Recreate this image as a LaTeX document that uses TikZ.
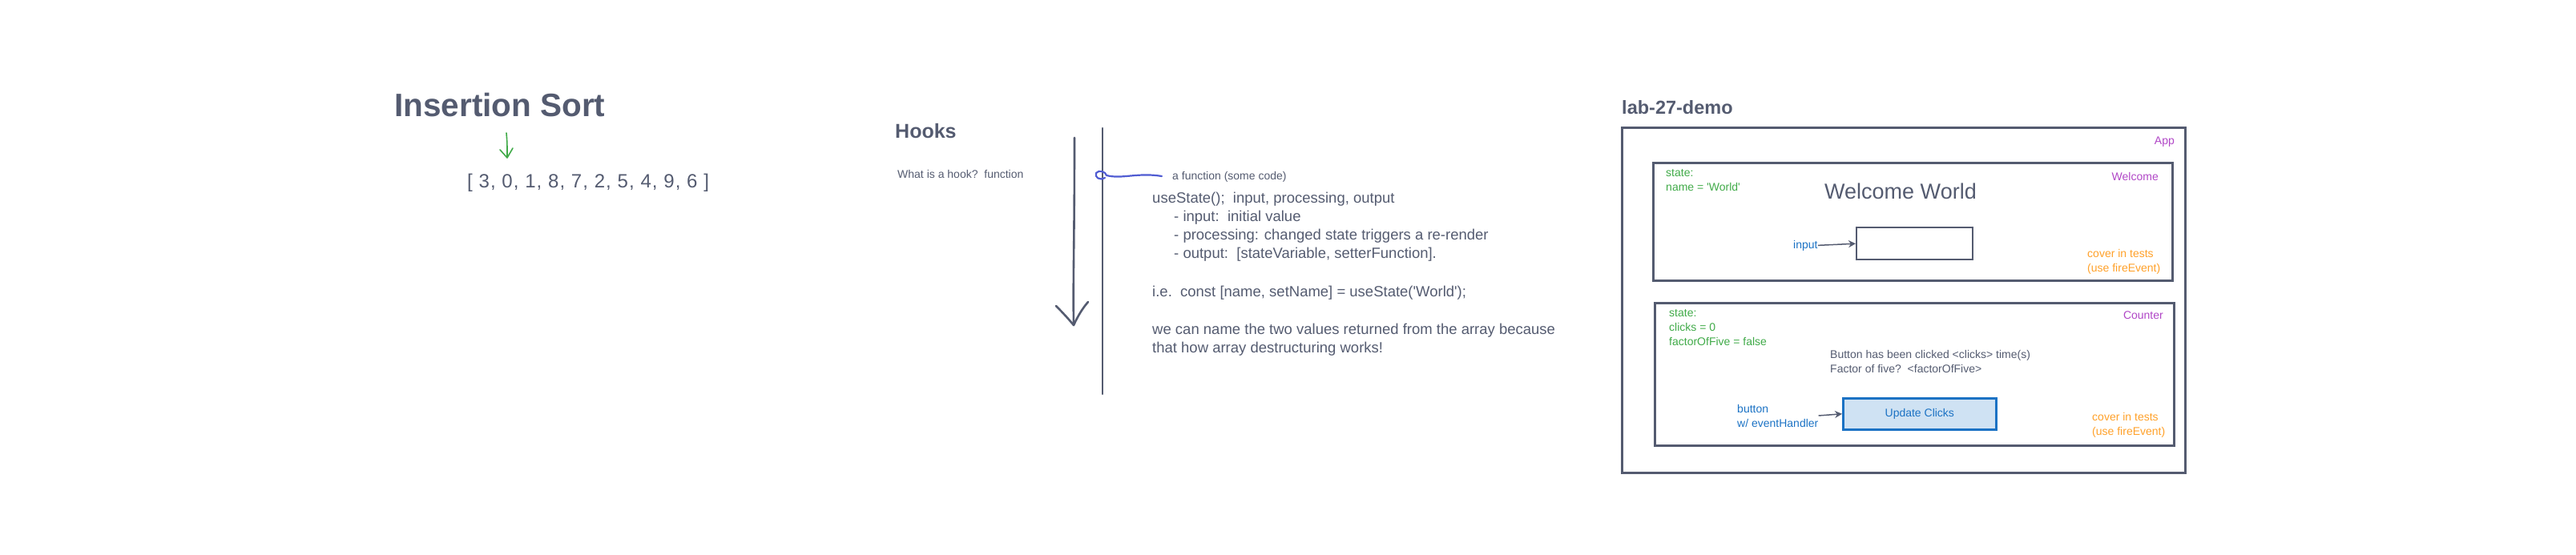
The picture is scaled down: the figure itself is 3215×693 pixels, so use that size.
\documentclass[tikz,border=0pt]{standalone}
\usepackage{fontspec}
\setmainfont{Liberation Sans}
\usetikzlibrary{arrows.meta}

\definecolor{slate}{RGB}{84,91,112}
\definecolor{leafgreen}{RGB}{64,170,72}
\definecolor{penblue}{RGB}{80,92,210}
\definecolor{plum}{RGB}{176,70,198}
\definecolor{linkblue}{RGB}{27,114,196}
\definecolor{amber}{RGB}{255,160,40}
\definecolor{btnfill}{RGB}{207,226,243}

\newcommand{\fsz}[2]{\fontsize{#1}{#2}\selectfont}

\begin{document}
\begin{tikzpicture}[x=1pt, y=-1pt, >={Stealth[length=9pt,width=9pt]},
  lbl/.style={inner sep=0pt, anchor=base west, text=slate, font=\fsz{14}{18}},
  heading/.style={lbl, font=\bfseries\fsz{24}{28}},
  frame/.style={draw=slate, line width=2.6pt, inner sep=0pt, anchor=north west},
  pencil/.style={slate, line width=2.6pt, line cap=round, line join=round}]
  \useasboundingbox (0,0) rectangle (3215,693);

  % insertion sort
  \node[heading, font=\bfseries\fsz{40.5}{48}] (sorttitle) at (492,145) {Insertion Sort};
  \node[lbl, font=\addfontfeature{LetterSpace=4.5}\fsz{24}{28}] (sortarray) at (583,234) {[ 3, 0, 1, 8, 7, 2, 5, 4, 9, 6 ]};
  \draw[leafgreen, line width=1.6pt, line cap=round, line join=round]
    (632,166) .. controls (633,178) .. (633,197) (624,187) -- (633,197) -- (640,185);

  % hooks
  \node[heading, font=\bfseries\fsz{25}{30}] (hookstitle) at (1117,172) {Hooks};
  \node[lbl] (hookq) at (1120,222) {What is a hook?\ \ function};
  \draw[pencil] (1341,172) .. controls (1341,300) and (1339,350) .. (1340,406);
  \draw[pencil] (1318,382) .. controls (1328,392) and (1335,400) .. (1340,406)
    .. controls (1345,395) and (1351,385) .. (1358,377);
  \coordinate (linetop) at (1376,160);
  \coordinate (linebot) at (1376,492);
  \draw[pencil] (linetop) -- (linebot);
  \draw[penblue, line width=2.2pt, line cap=round, line join=round]
    (1379,222) .. controls (1372,226) and (1366,221) .. (1368,216)
    .. controls (1371,212) and (1380,214) .. (1381,219)
    .. controls (1400,224) and (1420,215) .. (1450,220);
  \node[lbl] (hookdef) at (1463,224) {a function (some code)};
  % multi-line nodes sit on the baseline of their last line
  \node[lbl, font=\fsz{18.5}{23}, align=left] (usestate) at (1438,440)
    {useState();\ \ input, processing, output\\
     \hspace*{27pt}- input:\ \ initial value\\
     \hspace*{27pt}- processing: changed state triggers a re-render\\
     \hspace*{27pt}- output:\ \ [stateVariable, setterFunction].\\[25pt]
     i.e.\ \ const [name, setName] = useState(\textquotesingle World\textquotesingle);\\[24pt]
     we can name the two values returned from the array because\\
     that how array destructuring works!};

  % lab-27-demo
  \node[heading, font=\bfseries\fsz{23.5}{28}] (demotitle) at (2024,142) {lab-27-demo};
  \node[frame, minimum width=703pt, minimum height=431pt] (appbox) at (2023,158) {};
  \node[lbl, anchor=base east, text=plum] (applbl) at (2714,180) {App};

  \node[frame, minimum width=648pt, minimum height=147pt] (welcomebox) at (2062,202) {};
  \node[lbl, text=leafgreen, align=left] (welcomestate) at (2079,238)
    {state:\\name = \textquotesingle World\textquotesingle};
  \node[lbl, anchor=base east, text=plum] (welcomelbl) at (2694,225) {Welcome};
  \node[lbl, font=\fsz{27}{32}] (welcometext) at (2277,248) {Welcome World};
  \node[frame, line width=2.4pt, minimum width=145pt, minimum height=40pt] (inputbox) at (2316,283) {};
  \node[lbl, text=linkblue] (inputlbl) at (2238,310) {input};
  \draw[->, slate, line width=1.5pt] (inputlbl.east) -- (inputbox.west);
  \node[lbl, text=amber, align=left] (welcometests) at (2605,339) {cover in tests\\(use fireEvent)};

  \node[frame, minimum width=648pt, minimum height=178pt] (counterbox) at (2064,377) {};
  \node[lbl, text=leafgreen, align=left] (counterstate) at (2083,431)
    {state:\\clicks = 0\\factorOfFive = false};
  \node[lbl, anchor=base east, text=plum] (counterlbl) at (2700,398) {Counter};
  \node[lbl, align=left] (clicktext) at (2284,465)
    {Button has been clicked <clicks> time(s)\\Factor of five?\ \ <factorOfFive>};
  \node[frame, draw=linkblue, fill=btnfill, minimum width=191pt, minimum height=39pt,
    text=linkblue, font=\fsz{14}{18}] (clickbtn) at (2299,496) {Update Clicks};
  \node[lbl, text=linkblue, align=left] (btnlbl) at (2168,533) {button\\w/ eventHandler};
  \draw[->, slate, line width=1.5pt] (btnlbl.east) -- (clickbtn.west);
  \node[lbl, text=amber, align=left] (countertests) at (2611,543) {cover in tests\\(use fireEvent)};
\end{tikzpicture}
\end{document}
